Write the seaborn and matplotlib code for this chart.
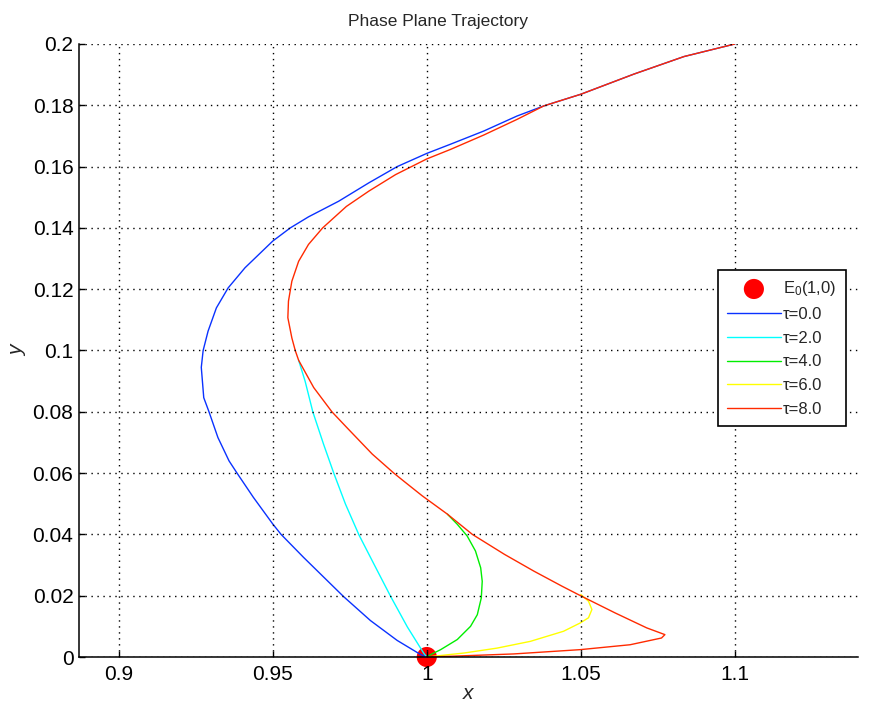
import numpy as np
import pandas as pd
import seaborn as sns
import matplotlib
matplotlib.use("Agg")
import matplotlib.pyplot as plt
from matplotlib.ticker import FuncFormatter

# ---- data ----
tau0_x = [1.1, 1.0835, 1.0673, 1.05, 1.038, 1.0293, 1.0185, 1.0077, 1.0, 0.9904,
          0.9812, 0.9714, 0.9616, 0.9557, 0.95, 0.941, 0.9355, 0.9317, 0.929, 0.9274,
          0.9268, 0.9276, 0.9293, 0.9322, 0.9358, 0.9384, 0.9437, 0.95, 0.9527, 0.96,
          0.973, 0.9817, 0.9904, 0.998, 1.0]
tau0_y = [0.2, 0.1959, 0.1902, 0.1836, 0.1798, 0.1765, 0.1716, 0.1673, 0.1643, 0.16,
          0.1547, 0.1487, 0.1436, 0.14, 0.1357, 0.127, 0.1204, 0.1139, 0.1063, 0.1,
          0.0945, 0.0846, 0.08, 0.0716, 0.064, 0.06, 0.0521, 0.0434, 0.04, 0.0325,
          0.0197, 0.0119, 0.0054, 0.0008, 0.0]

tau2_x = [0.9584, 0.9605, 0.963, 0.9665, 0.9698, 0.9736, 0.978, 0.9828, 0.9883,
          0.9937, 0.9991, 1.0]
tau2_y = [0.0968, 0.09, 0.08, 0.0694, 0.06, 0.0499, 0.0398, 0.0304, 0.0197,
          0.0098, 0.0011, 0.0]

tau4_x = [1.0067, 1.0099, 1.0131, 1.0158, 1.0175, 1.018, 1.0177, 1.0164, 1.0142,
          1.0099, 1.0045, 1.0013, 1.0]
tau4_y = [0.0466, 0.0433, 0.0395, 0.0346, 0.0291, 0.0247, 0.0193, 0.0138, 0.01,
          0.0057, 0.0024, 0.0008, 0.0]

tau6_x = [1.05, 1.0525, 1.0536, 1.0525, 1.0498, 1.0444, 1.0336, 1.0228, 1.0121, 1.0]
tau6_y = [0.0204, 0.0182, 0.0155, 0.0128, 0.0111, 0.0084, 0.0051, 0.0029, 0.0013, 0.0]

tau8_x = [1.1, 1.0835, 1.0673, 1.05, 1.038, 1.0293, 1.0185, 1.0077, 1.0, 0.9899,
          0.9812, 0.9739, 0.9662, 0.9616, 0.9584, 0.9562, 0.9551, 0.9549, 0.9562, 0.9573,
          0.9584, 0.9633, 0.9692, 0.9741, 0.9823, 0.9893, 0.9925, 0.9985, 1.0067, 1.0148,
          1.0252, 1.0348, 1.0439, 1.0503, 1.0611, 1.0714, 1.0773, 1.0762, 1.066, 1.0498,
          1.0282, 1.0067, 1.0]
tau8_y = [0.2, 0.1959, 0.1902, 0.1836, 0.1798, 0.1754, 0.1703, 0.1656, 0.1625, 0.1574,
          0.152, 0.147, 0.14, 0.1346, 0.1291, 0.1226, 0.1161, 0.1107, 0.1041, 0.1,
          0.0968, 0.0879, 0.08, 0.0748, 0.0662, 0.06, 0.0574, 0.0526, 0.0466, 0.04,
          0.0335, 0.028, 0.0231, 0.0198, 0.0144, 0.0095, 0.0073, 0.0062, 0.004, 0.0024,
          0.001, 0.0002, 0.0]

E0_x = [1.0]
E0_y = [0.0]

series_labels = ["τ=0.0", "τ=2.0", "τ=4.0", "τ=6.0", "τ=8.0"]
series_x = [tau0_x, tau2_x, tau4_x, tau6_x, tau8_x]
series_y = [tau0_y, tau2_y, tau4_y, tau6_y, tau8_y]
series_colors = ["#0a32ff", "#00ffff", "#00ee00", "#ffff00", "#ff2a00"]

x_ticks = [0.9, 0.95, 1.0, 1.05, 1.1]
y_ticks = [0, 0.02, 0.04, 0.06, 0.08, 0.1, 0.12, 0.14, 0.16, 0.18, 0.2]

# ---- plotting ----
sns.set_theme(style="white")
plt.rcParams["font.family"] = ["Liberation Sans", "DejaVu Sans"]
plt.rcParams["mathtext.fontset"] = "custom"
plt.rcParams["mathtext.rm"] = "Liberation Sans"
plt.rcParams["mathtext.it"] = "Liberation Sans:italic"

fig = plt.figure(figsize=(8.69, 7.06), dpi=100)
ax = fig.add_axes([0.0909, 0.0694, 0.8965, 0.8683])

sns.scatterplot(x=E0_x, y=E0_y, s=210, color="red", edgecolor="none",
                label="E$_0$(1,0)", ax=ax, zorder=1, clip_on=False)

for xs, ys, lab, col in zip(series_x, series_y, series_labels, series_colors):
    df = pd.DataFrame({"x": xs, "y": ys})
    sns.lineplot(data=df, x="x", y="y", sort=False, estimator=None,
                 color=col, linewidth=1.0, label=lab, ax=ax)

ax.set_xlim(0.8871, 1.1400)
ax.set_ylim(0, 0.2)
ax.set_xticks(x_ticks)
ax.set_yticks(y_ticks)
fmt = FuncFormatter(lambda v, p: ("%g" % round(v, 4)))
ax.xaxis.set_major_formatter(fmt)
ax.yaxis.set_major_formatter(fmt)

ax.grid(True, color="black", linestyle=(0, (1, 3.3)), linewidth=1.0)
ax.set_axisbelow(False)
for s in ["top", "right"]:
    ax.spines[s].set_visible(False)
for s in ["left", "bottom"]:
    ax.spines[s].set_color("black")
    ax.spines[s].set_linewidth(1.1)

ax.tick_params(axis="both", direction="in", length=4, width=1.0, labelsize=15,
               colors="black", pad=4, left=True, bottom=True)
ax.tick_params(axis="x", pad=6)

ax.set_xlabel("x", fontsize=15, fontstyle="italic", labelpad=0)
ax.set_ylabel("y", fontsize=15, fontstyle="italic")
ax.yaxis.set_label_coords(-0.066, 0.5)
ax.set_title("Phase Plane Trajectory", fontsize=12.5, pad=13, x=0.461)

leg = ax.legend(loc="upper left", bbox_to_anchor=(0.8203, 0.631), borderaxespad=0,
                fontsize=12, frameon=True, fancybox=False, framealpha=1,
                edgecolor="black", handlelength=3.2, handletextpad=0.15,
                labelspacing=0.52, borderpad=0.55)
leg.get_frame().set_linewidth(1.2)

fig.savefig("out.png", dpi=100)
